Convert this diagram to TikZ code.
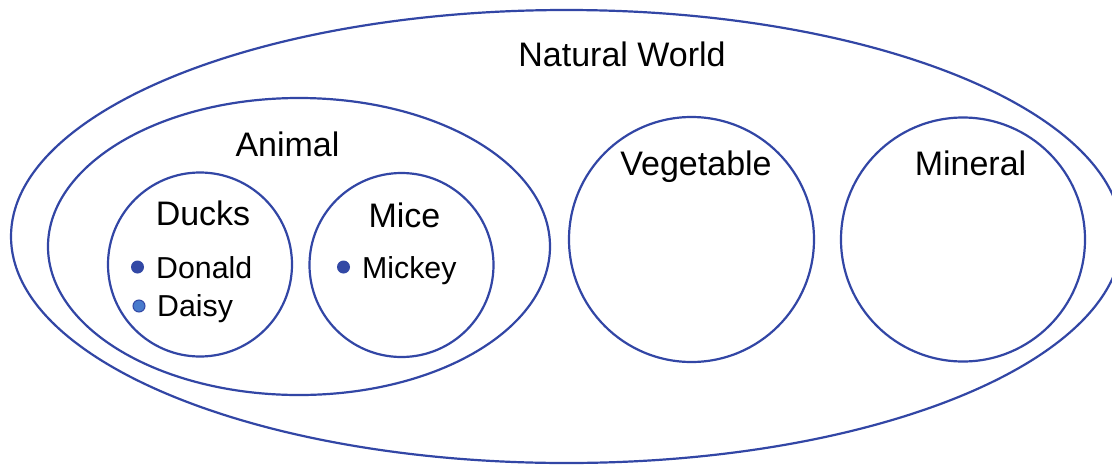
\documentclass[tikz,border=0pt]{standalone}
\usepackage{fontspec}
\setmainfont{Liberation Sans}
\usetikzlibrary{shapes.geometric}
\definecolor{setblue}{RGB}{50,70,165}
\definecolor{dotdark}{RGB}{50,72,165}
\definecolor{dotlight}{RGB}{72,122,204}
\begin{document}
\begin{tikzpicture}[x=1pt,y=-1pt,
  setline/.style={draw=setblue,line width=2.2pt,inner sep=0pt,outer sep=0pt},
  oval/.style={setline,ellipse},
  ring/.style={setline,circle},
  biglabel/.style={anchor=base,inner sep=0pt,font=\fontsize{34}{40}\selectfont},
  itemlabel/.style={anchor=base west,inner sep=0pt,font=\fontsize{30.3}{36}\selectfont},
  bullet/.style={circle,inner sep=0pt,minimum size=13pt}
]
\useasboundingbox (0,0) rectangle (1112,464);
\fill[white] (0,0) rectangle (1112,464);
% sets
\node[oval,minimum width=1111pt,minimum height=453pt] (world) at (566.5,236.5) {};
\node[oval,minimum width=502pt,minimum height=297pt] (animal) at (299,246.5) {};
\node[ring,minimum size=184pt] (ducks) at (200,264.5) {};
\node[ring,minimum size=184pt] (mice) at (401.5,265) {};
\node[ring,minimum size=245pt] (veg) at (691.5,239.5) {};
\node[ring,minimum size=244pt] (min) at (963,239.5) {};
% labels
\node[biglabel] (worldlbl) at (622,66) {Natural World};
\node[biglabel] (animallbl) at (287.5,156) {Animal};
\node[biglabel] (duckslbl) at (203,225) {Ducks};
\node[biglabel] (micelbl) at (404.5,227) {Mice};
\node[biglabel] (veglbl) at (696,175) {Vegetable};
\node[biglabel] (minlbl) at (970.5,175) {Mineral};
% members
\node[bullet,fill=dotdark] (donalddot) at (137.5,267) {};
\node[itemlabel] (donald) at (156,278) {Donald};
\node[bullet,fill=dotlight,draw=dotdark,line width=1pt,minimum size=12pt] (daisydot) at (139,306) {};
\node[itemlabel] (daisy) at (157,316.5) {Daisy};
\node[bullet,fill=dotdark] (mickeydot) at (343.5,267) {};
\node[itemlabel] (mickey) at (362,278) {Mickey};
\end{tikzpicture}
\end{document}
